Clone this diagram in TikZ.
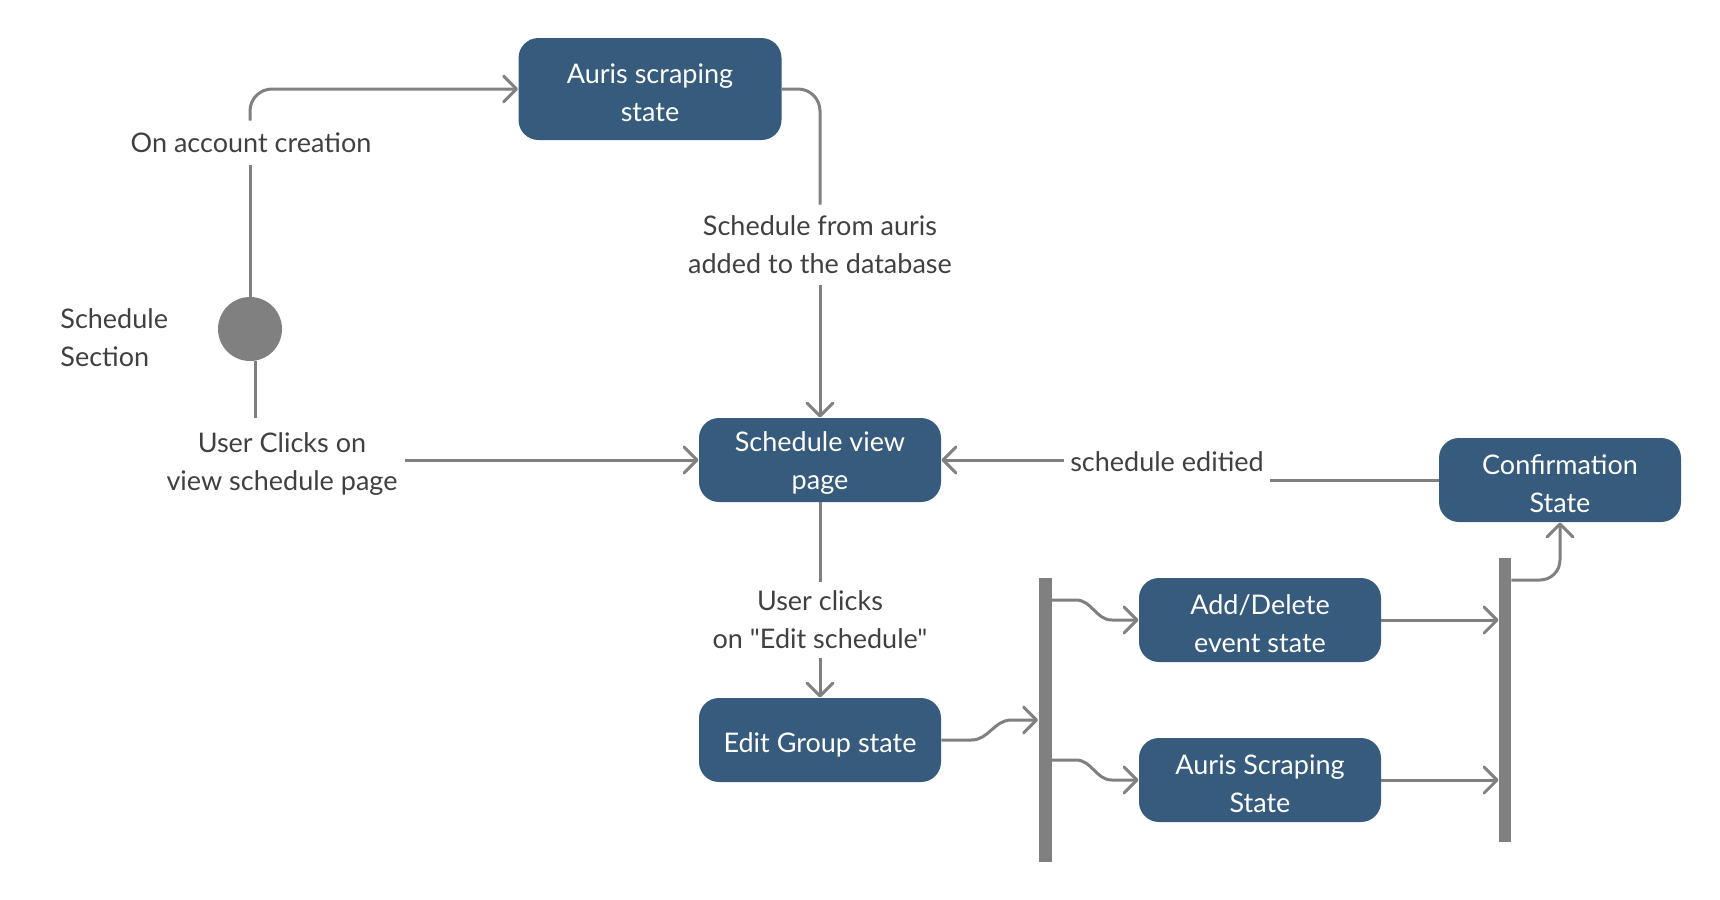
\documentclass[tikz,border=0pt]{standalone}
\usepackage{fontspec}
\setmainfont{Lato}[Ligatures=TeXOff]
\usetikzlibrary{arrows.meta}
\definecolor{boxblue}{HTML}{365B7D}
\definecolor{linegray}{HTML}{808080}
\definecolor{txtgray}{HTML}{404040}
\newcommand{\toprl}[1][13.3pt]{\rule{0pt}{#1}}
\begin{document}
\begin{tikzpicture}[x=0.5pt,y=-0.5pt,
 state/.style={fill=boxblue, rounded corners=10pt, text=white, align=center, minimum width=121pt, minimum height=42pt, inner sep=0pt, font=\fontsize{13.5}{19}\selectfont},
 lab/.style={text=txtgray, align=center, font=\fontsize{13.5}{19}\selectfont, inner sep=4pt},
 conn/.style={draw=linegray, line width=1.5pt},
 arr/.style={conn, -{Straight Barb[length=6.5pt,width=13pt,round]}},
 bar/.style={fill=linegray, minimum width=6.5pt, inner sep=0pt}
]
\useasboundingbox (0,0) rectangle (1720,900);
% states
\node[state, minimum width=131.5pt, minimum height=51pt] (auris) at (650,89) {\toprl Auris scraping\\state};
\node[state] (view) at (820,460) {\toprl Schedule view\\page};
\node[state] (conf) at (1560,480) {\toprl Confirmation\\State};
\node[state] (add) at (1260,620) {\toprl Add/Delete\\event state};
\node[state] (scrape) at (1260,780) {\toprl Auris Scraping\\State};
\node[state] (edit) at (820,740) {\toprl[15.2pt]Edit Group state};
\node[circle, fill=linegray, minimum size=32pt, inner sep=0pt] (init) at (250,329) {};
\node[bar, minimum height=142pt] (fork) at (1045,720) {};
\node[bar, minimum width=6pt, minimum height=142pt] (join) at (1505,700) {};
% labels
\node[lab, align=left, anchor=west, inner sep=0pt] (sect) at (60,338) {Schedule\\Section};
\node[lab, inner ysep=6pt] (l1) at (251,143) {On account creation};
\node[lab, inner ysep=5.5pt] (l2) at (820,245) {Schedule from auris\\added to the database};
\node[lab, inner ysep=7pt, inner xsep=3.5pt] (l3) at (282,464) {User Clicks on\\view schedule page};
\node[lab, inner ysep=4.5pt] (l4) at (820,620) {User clicks\\on "Edit schedule"};
\node[lab, inner xsep=3pt] (l5) at (1167,462) {schedule editied};
% connectors
\draw[conn] (init.north) -- (init.north |- l1.south);
\draw[arr, rounded corners=11pt] (init.north |- l1.north) |- (auris.west);
\draw[conn, rounded corners=11pt] (auris.east) -| (l2.north);
\draw[arr] (l2.south) -- (view.north);
\draw[conn] ([xshift=2.5pt]init.south) -- ([xshift=2.5pt]init.south |- l3.north);
\draw[arr] (l3.east |- view.west) -- (view.west);
\draw[conn] (view.south) -- (l4.north);
\draw[arr] (l4.south) -- (edit.north);
\draw[conn] (conf.west) -- (l5.east |- conf.west);
\draw[arr] (l5.west |- view.east) -- (view.east);
\draw[arr] (edit.east) -- ++(30,0) to[out=0,in=180] ++(40,-20) -- (fork.west);
\draw[arr] ([yshift=60pt]fork.east) -- ++(24,0) to[out=0,in=180] ++(36,20) -- (add.west);
\draw[arr] ([yshift=-20pt]fork.east) -- ++(24,0) to[out=0,in=180] ++(36,20) -- (scrape.west);
\draw[arr] (add.east) -- (add.east -| join.west);
\draw[arr] (scrape.east) -- (scrape.east -| join.west);
\draw[arr, rounded corners=10pt] ([yshift=60pt]join.east) -| (conf.south);
\end{tikzpicture}
\end{document}
